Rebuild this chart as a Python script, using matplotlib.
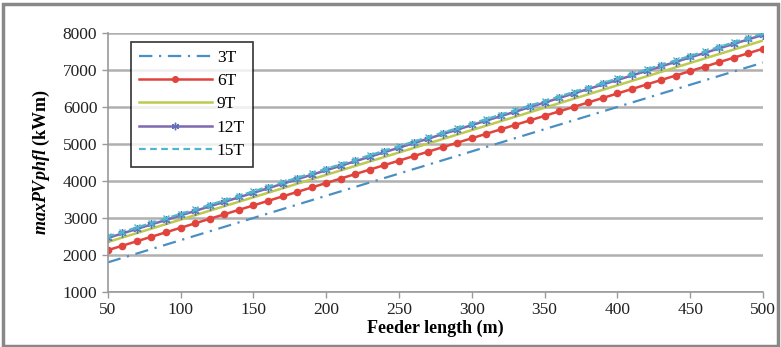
import matplotlib.pyplot as plt
from matplotlib.patches import Rectangle

# feeder length (m), one point every 10 m
feeder = list(range(50, 501, 10))

pv_3t = [1800, 1920, 2040, 2160, 2280, 2400, 2520, 2640, 2760, 2880, 3000, 3120,
         3240, 3360, 3480, 3600, 3720, 3840, 3960, 4080, 4200, 4320, 4440, 4560,
         4680, 4800, 4920, 5040, 5160, 5280, 5400, 5520, 5640, 5760, 5880, 6000,
         6120, 6240, 6360, 6480, 6600, 6720, 6840, 6960, 7080, 7200]
pv_6t = [2130, 2251, 2372, 2493, 2614, 2735, 2856, 2977, 3098, 3219, 3340, 3461,
         3582, 3703, 3824, 3945, 4066, 4187, 4308, 4429, 4550, 4671, 4792, 4913,
         5034, 5155, 5276, 5397, 5518, 5639, 5760, 5881, 6002, 6123, 6244, 6365,
         6486, 6607, 6728, 6849, 6970, 7091, 7212, 7333, 7454, 7575]
pv_9t = [2350, 2471, 2592, 2713, 2834, 2955, 3076, 3197, 3318, 3439, 3560, 3681,
         3802, 3923, 4044, 4165, 4286, 4407, 4528, 4649, 4770, 4891, 5012, 5133,
         5254, 5375, 5496, 5617, 5738, 5859, 5980, 6101, 6222, 6343, 6464, 6585,
         6706, 6827, 6948, 7069, 7190, 7311, 7432, 7553, 7674, 7795]
pv_12t = [2460, 2582, 2704, 2826, 2948, 3070, 3192, 3314, 3436, 3558, 3680, 3802,
          3924, 4046, 4168, 4290, 4412, 4534, 4656, 4778, 4900, 5022, 5144, 5266,
          5388, 5510, 5632, 5754, 5876, 5998, 6120, 6242, 6364, 6486, 6608, 6730,
          6852, 6974, 7096, 7218, 7340, 7462, 7584, 7706, 7828, 7950]
pv_15t = [2500, 2622, 2744, 2866, 2988, 3110, 3232, 3354, 3476, 3598, 3720, 3842,
          3964, 4086, 4208, 4330, 4452, 4574, 4696, 4818, 4940, 5062, 5184, 5306,
          5428, 5550, 5672, 5794, 5916, 6038, 6160, 6282, 6404, 6526, 6648, 6770,
          6892, 7014, 7136, 7258, 7380, 7502, 7624, 7746, 7868, 7990]

x_ticks = [50, 100, 150, 200, 250, 300, 350, 400, 450, 500]
y_ticks = [1000, 2000, 3000, 4000, 5000, 6000, 7000, 8000]

plt.rcParams['font.family'] = ['Liberation Serif', 'DejaVu Serif']
plt.rcParams['mathtext.fontset'] = 'custom'
plt.rcParams['mathtext.rm'] = 'Liberation Serif'
plt.rcParams['mathtext.it'] = 'Liberation Serif:italic'
plt.rcParams['mathtext.bf'] = 'Liberation Serif:bold'
plt.rcParams['mathtext.bfit'] = 'Liberation Serif:italic:bold'

fig = plt.figure(figsize=(7.81, 3.47), dpi=100)
ax = fig.add_axes([0.138, 0.1585, 0.839, 0.7465])

ax.plot(feeder, pv_3t, color='#4a8fc4', lw=1.6, ls=(0, (6, 3, 1, 3)), label='3T')
ax.plot(feeder, pv_6t, color='#e0443c', lw=1.8, marker='o', ms=4.5, label='6T')
ax.plot(feeder, pv_9t, color='#bccb4e', lw=1.8, label='9T')
ax.plot(feeder, pv_12t, color='#7f68b0', lw=1.8, marker=(6, 2, 0), ms=6,
        mec='#6070bc', label='12T')
ax.plot(feeder, pv_15t, color='#4fb7cc', lw=1.6, ls=(0, (3, 2)), marker='x', ms=4,
        mec='#4fb7cc')

# legend entry for 15T drawn without markers
ax.plot([], [], color='#4fb7cc', lw=1.6, ls=(0, (3, 2)), label='15T')
handles, labels = ax.get_legend_handles_labels()

ax.set_xlim(50, 500)
ax.set_ylim(1000, 8000)
ax.set_xticks(x_ticks)
ax.set_yticks(y_ticks)
ax.tick_params(labelsize=12.5, length=4, width=1, direction='out',
               colors='#999999', labelcolor='#222222')
ax.grid(axis='y', color='#b0b0b0', lw=1.8)
ax.set_axisbelow(True)
for s in ['top', 'right']:
    ax.spines[s].set_visible(False)
for s in ['left', 'bottom']:
    ax.spines[s].set_color('#999999')
    ax.spines[s].set_linewidth(1.2)

ax.set_xlabel('Feeder length (m)', fontsize=13, fontweight='bold', labelpad=1)
ax.set_ylabel(r'$\mathbfit{maxPVphfl}$ (kWm)', fontsize=13, fontweight='bold', labelpad=8)

leg = ax.legend(handles, labels, loc='upper left', bbox_to_anchor=(0.022, 1.0),
                fontsize=12.5, frameon=True, fancybox=False, edgecolor='black',
                handlelength=4.2, handletextpad=0.3, labelspacing=0.42,
                borderpad=0.45, markerscale=0.9)
leg.get_frame().set_linewidth(1.2)

# outer frame around the chart
fig.patches.append(Rectangle((0.004, 0.004), 0.992, 0.985, transform=fig.transFigure,
                             fill=False, edgecolor='#888888', lw=2.5))

fig.savefig('out.png', dpi=100)
